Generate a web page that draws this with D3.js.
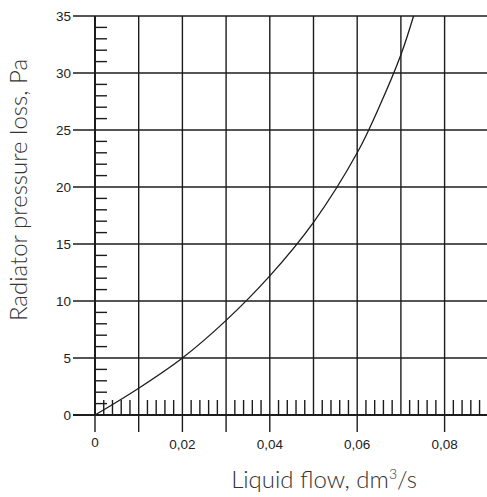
<!DOCTYPE html>
<html>
<head>
<meta charset="utf-8">
<script src="https://cdn.jsdelivr.net/npm/d3@7"></script>
<style>
  html, body { margin: 0; padding: 0; background: #fff; }
  svg { display: block; }
</style>
</head>
<body>
<svg id="chart" width="487" height="497"></svg>
<script>
// ---- data ----
const flow = [0, 0.01, 0.02, 0.03, 0.04, 0.05, 0.06, 0.065, 0.07, 0.0729];
const pressure = [0, 2.35, 5.0, 8.3, 12.2, 16.9, 23.0, 27.0, 31.6, 35];
const yTicks = [0, 5, 10, 15, 20, 25, 30, 35];
const yTickLabels = ["0", "5", "10", "15", "20", "25", "30", "35"];
const xGrid = [0.01, 0.02, 0.03, 0.04, 0.05, 0.06, 0.07, 0.08, 0.09];
const xLabelTicks = [0, 0.02, 0.04, 0.06, 0.08];
const xLabelText = ["0", "0,02", "0,04", "0,06", "0,08"];
const xLongTicks = [0, 0.01, 0.02, 0.03, 0.04, 0.06, 0.08];
const xTitle = "Liquid flow, dm";
const xTitleSup = "3";
const xTitleEnd = "/s";
const yTitle = "Radiator pressure loss, Pa";

// ---- scales ----
const x = d3.scaleLinear().domain([0, 0.09]).range([95, 488.3]);
const y = d3.scaleLinear().domain([0, 35]).range([415, 16]);

const svg = d3.select("#chart");
const ink = "#1c1c1c";

// minor y ticks
const yMinor = d3.range(0, 35).filter(v => v % 5 !== 0);
svg.append("g").selectAll("line").data(yMinor).join("line")
  .attr("x1", x(0)).attr("x2", x(0) + 12)
  .attr("y1", d => y(d)).attr("y2", d => y(d))
  .attr("stroke", ink).attr("stroke-width", 1.4);

// minor x ticks
const xMinor = d3.range(1, 45).map(i => i * 0.002).filter((v, i) => (i + 1) % 5 !== 0);
svg.append("g").selectAll("line").data(xMinor).join("line")
  .attr("x1", d => x(d)).attr("x2", d => x(d))
  .attr("y1", y(0)).attr("y2", y(0) - 15)
  .attr("stroke", ink).attr("stroke-width", 1.4);

// horizontal grid lines (extend left as ticks)
svg.append("g").selectAll("line").data(yTicks).join("line")
  .attr("x1", 73).attr("x2", 487)
  .attr("y1", d => y(d)).attr("y2", d => y(d))
  .attr("stroke", ink).attr("stroke-width", d => d === 0 ? 2 : 1.4);

// vertical grid lines
svg.append("g").selectAll("line").data(xGrid).join("line")
  .attr("x1", d => x(d)).attr("x2", d => x(d))
  .attr("y1", y(35)).attr("y2", y(0))
  .attr("stroke", ink).attr("stroke-width", 1.4);

// long ticks below axis
svg.append("g").selectAll("line").data(xLongTicks).join("line")
  .attr("x1", d => x(d)).attr("x2", d => x(d))
  .attr("y1", y(0)).attr("y2", 432)
  .attr("stroke", ink).attr("stroke-width", 1.4);

// y axis line
svg.append("line")
  .attr("x1", x(0)).attr("x2", x(0))
  .attr("y1", y(35)).attr("y2", y(0))
  .attr("stroke", ink).attr("stroke-width", 2);

// curve
const line = d3.line()
  .x((d, i) => x(flow[i]))
  .y((d, i) => y(pressure[i]))
  .curve(d3.curveCatmullRom.alpha(0.5));
svg.append("path")
  .datum(pressure)
  .attr("d", line)
  .attr("fill", "none")
  .attr("stroke", ink)
  .attr("stroke-width", 1.3);

// y tick labels
svg.append("g").selectAll("text").data(yTicks).join("text")
  .attr("x", 71).attr("y", d => y(d))
  .attr("dy", "0.36em")
  .attr("text-anchor", "end")
  .attr("font-family", "'Liberation Sans', Arial, sans-serif")
  .attr("font-size", 13.5)
  .attr("fill", "#222")
  .text((d, i) => yTickLabels[i]);

// x tick labels
svg.append("g").selectAll("text").data(xLabelTicks).join("text")
  .attr("x", d => x(d)).attr("y", (d, i) => i === 0 ? 447 : 449)
  .attr("text-anchor", "middle")
  .attr("font-family", "'Liberation Sans', Arial, sans-serif")
  .attr("font-size", 13.5)
  .attr("fill", "#222")
  .text((d, i) => xLabelText[i]);

// axis titles
const xt = svg.append("text")
  .attr("x", 324).attr("y", 488)
  .attr("text-anchor", "middle")
  .attr("font-family", "Lato, 'Open Sans', sans-serif")
  .attr("font-weight", 300)
  .attr("font-size", 24)
  .attr("fill", "#333");
xt.append("tspan").text(xTitle);
xt.append("tspan").attr("dy", -9).attr("font-size", 14).text(xTitleSup);
xt.append("tspan").attr("dy", 9).text(xTitleEnd);

svg.append("text")
  .attr("transform", "translate(27,190) rotate(-90)")
  .attr("text-anchor", "middle")
  .attr("font-family", "Lato, 'Open Sans', sans-serif")
  .attr("font-weight", 300)
  .attr("font-size", 24)
  .attr("fill", "#333")
  .text(yTitle);
</script>
</body>
</html>
